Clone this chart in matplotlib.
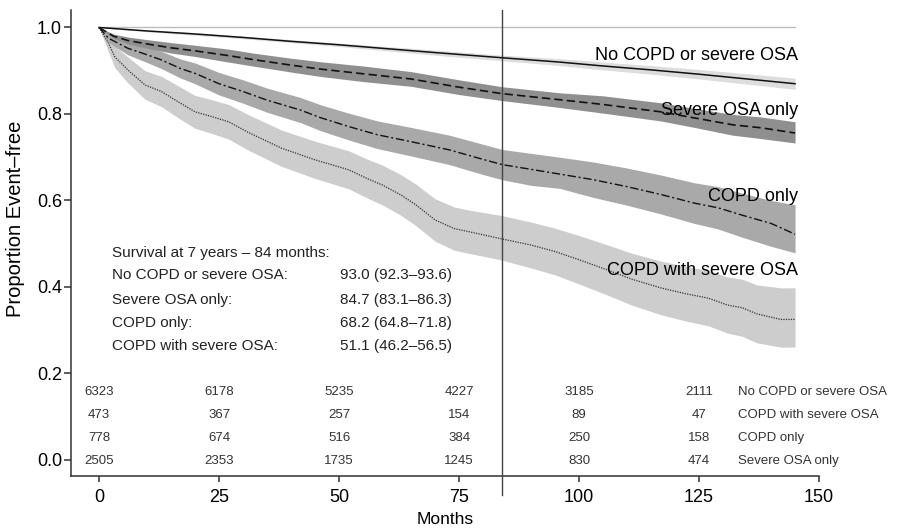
import matplotlib
matplotlib.use("Agg")
import matplotlib.pyplot as plt

plt.rcParams['font.family'] = ['Liberation Sans', 'DejaVu Sans']

# Kaplan-Meier estimates (proportion event-free) with 95% CI, by group
nocopd_m = [0, 10, 20, 30, 40, 50, 60, 70, 84, 96, 105, 115, 125, 135, 145]
nocopd_s = [1.0, 0.992, 0.985, 0.977, 0.968, 0.960, 0.951, 0.942, 0.930, 0.920, 0.911, 0.902, 0.892, 0.881, 0.870]
nocopd_lo = [1.0, 0.990, 0.982, 0.974, 0.965, 0.956, 0.946, 0.936, 0.923, 0.912, 0.902, 0.892, 0.881, 0.869, 0.857]
nocopd_hi = [1.0, 0.994, 0.988, 0.980, 0.972, 0.964, 0.956, 0.948, 0.936, 0.928, 0.920, 0.912, 0.903, 0.893, 0.883]

osa_m = [0, 3, 6, 10, 15, 20, 27, 32, 40, 46, 55, 65, 75, 84, 96, 105, 117, 124, 132, 138, 145]
osa_s = [1.0, 0.980, 0.970, 0.962, 0.953, 0.946, 0.935, 0.926, 0.913, 0.904, 0.893, 0.881, 0.862, 0.847,
         0.833, 0.822, 0.805, 0.791, 0.775, 0.768, 0.756]
osa_lo = [1.0, 0.975, 0.962, 0.952, 0.941, 0.933, 0.920, 0.911, 0.897, 0.887, 0.875, 0.864, 0.845, 0.831,
          0.815, 0.802, 0.784, 0.769, 0.751, 0.743, 0.733]
osa_hi = [1.0, 0.985, 0.978, 0.972, 0.965, 0.959, 0.950, 0.941, 0.929, 0.921, 0.911, 0.898, 0.879, 0.863,
          0.849, 0.842, 0.826, 0.813, 0.799, 0.793, 0.782]

copd_m = [0, 2, 6, 10, 13, 17, 20, 25, 30, 35, 42, 46, 52, 58, 65, 73, 80, 84, 90, 96, 103, 110,
          117, 124, 129, 134, 140, 145]
copd_s = [1.0, 0.975, 0.952, 0.937, 0.925, 0.905, 0.894, 0.870, 0.852, 0.832, 0.809, 0.792, 0.771, 0.752,
          0.736, 0.717, 0.695, 0.683, 0.672, 0.661, 0.648, 0.632, 0.614, 0.594, 0.583, 0.566, 0.547, 0.522]
copd_lo = [1.0, 0.965, 0.937, 0.919, 0.905, 0.883, 0.870, 0.844, 0.825, 0.804, 0.780, 0.762, 0.740, 0.720,
           0.703, 0.683, 0.660, 0.648, 0.635, 0.628, 0.607, 0.589, 0.569, 0.547, 0.534, 0.515, 0.494, 0.479]
copd_hi = [1.0, 0.985, 0.967, 0.955, 0.945, 0.927, 0.918, 0.896, 0.879, 0.860, 0.838, 0.822, 0.802, 0.784,
           0.769, 0.751, 0.730, 0.718, 0.709, 0.700, 0.689, 0.675, 0.659, 0.641, 0.632, 0.617, 0.600, 0.590]

both_m = [0, 2, 3.3, 6, 9.6, 13, 16.5, 20, 23.5, 27, 31, 38, 45, 52, 56, 59, 63, 66, 70, 74, 77, 84,
          90, 95, 100, 106, 111, 117, 122, 127, 131, 134, 137, 142, 145]
both_s = [1.0, 0.963, 0.932, 0.902, 0.867, 0.852, 0.828, 0.805, 0.794, 0.782, 0.758, 0.721, 0.694, 0.671,
          0.650, 0.636, 0.612, 0.590, 0.555, 0.535, 0.528, 0.511, 0.497, 0.482, 0.463, 0.439, 0.418, 0.398,
          0.385, 0.374, 0.358, 0.352, 0.338, 0.325, 0.325]
both_lo = [1.0, 0.943, 0.907, 0.872, 0.834, 0.817, 0.791, 0.767, 0.755, 0.742, 0.717, 0.679, 0.651, 0.627,
           0.605, 0.590, 0.565, 0.542, 0.506, 0.485, 0.478, 0.462, 0.444, 0.428, 0.407, 0.381, 0.358, 0.336,
           0.322, 0.310, 0.293, 0.286, 0.271, 0.261, 0.261]
both_hi = [1.0, 0.983, 0.957, 0.932, 0.900, 0.887, 0.865, 0.843, 0.833, 0.822, 0.799, 0.763, 0.737, 0.715,
           0.695, 0.682, 0.659, 0.638, 0.604, 0.585, 0.578, 0.565, 0.550, 0.536, 0.519, 0.497, 0.478, 0.460,
           0.448, 0.438, 0.423, 0.418, 0.405, 0.398, 0.398]

# survival at 84 months
summary_names = ["No COPD or severe OSA:", "Severe OSA only:", "COPD only:", "COPD with severe OSA:"]
summary_vals = ["93.0 (92.3\u201393.6)", "84.7 (83.1\u201386.3)", "68.2 (64.8\u201371.8)", "51.1 (46.2\u201356.5)"]

# number at risk
risk_times = [0, 25, 50, 75, 100, 125]
risk_names = ["No COPD or severe OSA", "COPD with severe OSA", "COPD only", "Severe OSA only"]
risk_nocopd = [6323, 6178, 5235, 4227, 3185, 2111]
risk_both = [473, 367, 257, 154, 89, 47]
risk_copd = [778, 674, 516, 384, 250, 158]
risk_osa = [2505, 2353, 1735, 1245, 830, 474]

fig = plt.figure(figsize=(8.98, 5.31), dpi=100)
ax = fig.add_axes([0.0791, 0.1036, 0.8330, 0.8776])
ax.set_xlim(-5.83, 150)
ax.set_ylim(-0.037, 1.0405)

ax.plot([0, 145], [1.0, 1.0], color='#bdbdbd', lw=1.0, zorder=1)

ax.fill_between(both_m, both_lo, both_hi, color='#cdcdcd', lw=0, zorder=2)
ax.fill_between(copd_m, copd_lo, copd_hi, color='#a9a9a9', lw=0, zorder=2)
ax.fill_between(osa_m, osa_lo, osa_hi, color='#8f8f8f', lw=0, zorder=2)
ax.fill_between(nocopd_m, nocopd_lo, nocopd_hi, color='#dddddd', lw=0, zorder=2)

ax.plot(nocopd_m, nocopd_s, color='#111111', lw=1.1, ls='-', zorder=4)
ax.plot(osa_m, osa_s, color='#111111', lw=1.2, ls=(0, (5, 2.5)), zorder=4)
ax.plot(copd_m, copd_s, color='#111111', lw=1.0, ls=(0, (6, 2, 1.5, 2)), zorder=4)
ax.plot(both_m, both_s, color='#333333', lw=0.9, ls=(0, (1, 1)), zorder=4)

# 7-year marker
ax.plot([84, 84], [-0.081, 1.0405], color='#444444', lw=1.0, clip_on=False, zorder=3)

# curve labels
lab_x = 145.6
ax.text(lab_x, 0.936, "No COPD or severe OSA", ha='right', va='center', fontsize=13, zorder=5)
ax.text(lab_x, 0.809, "Severe OSA only", ha='right', va='center', fontsize=13, zorder=5)
ax.text(lab_x, 0.610, "COPD only", ha='right', va='center', fontsize=13, zorder=5)
ax.text(lab_x, 0.437, "COPD with severe OSA", ha='right', va='center', fontsize=13, zorder=5)

# survival summary block
ax.text(2.7, 0.479, "Survival at 7 years \u2013 84 months:", ha='left', va='center', fontsize=11, color='#222222')
for i, (nm, val) in enumerate(zip(summary_names, summary_vals)):
    yy = [0.428, 0.370, 0.317, 0.264][i]
    ax.text(2.7, yy, nm, ha='left', va='center', fontsize=11, color='#222222')
    ax.text(50.2, yy, val, ha='left', va='center', fontsize=11, color='#222222')

# at-risk table
risk_rows = [risk_nocopd, risk_both, risk_copd, risk_osa]
risk_y = [0.158, 0.104, 0.051, -0.002]
for row, yy, nm in zip(risk_rows, risk_y, risk_names):
    for t, n in zip(risk_times, row):
        ax.text(t, yy, str(n), ha='center', va='center', fontsize=9.5, color='#333333')
    ax.text(133.1, yy, nm, ha='left', va='center', fontsize=9.5, color='#333333', clip_on=False)

ax.spines['top'].set_visible(False)
ax.spines['right'].set_visible(False)
for s in ['left', 'bottom']:
    ax.spines[s].set_color('#333333')
    ax.spines[s].set_linewidth(1.1)

ax.set_xticks([0, 25, 50, 75, 100, 125, 150])
ax.set_yticks([0.0, 0.2, 0.4, 0.6, 0.8, 1.0])
ax.set_yticklabels(["0.0", "0.2", "0.4", "0.6", "0.8", "1.0"])
ax.tick_params(axis='x', length=4.5, width=1.1, color='#333333', labelsize=13, pad=5)
ax.tick_params(axis='y', length=5, width=1.1, color='#333333', labelsize=13, pad=1.5)
ax.set_xlabel("Months", fontsize=12.5, labelpad=4.5)
ax.set_ylabel("Proportion Event\u2013free", fontsize=14.5)
ax.yaxis.set_label_coords(-0.062, 0.551)

fig.savefig("out.png", dpi=100)
